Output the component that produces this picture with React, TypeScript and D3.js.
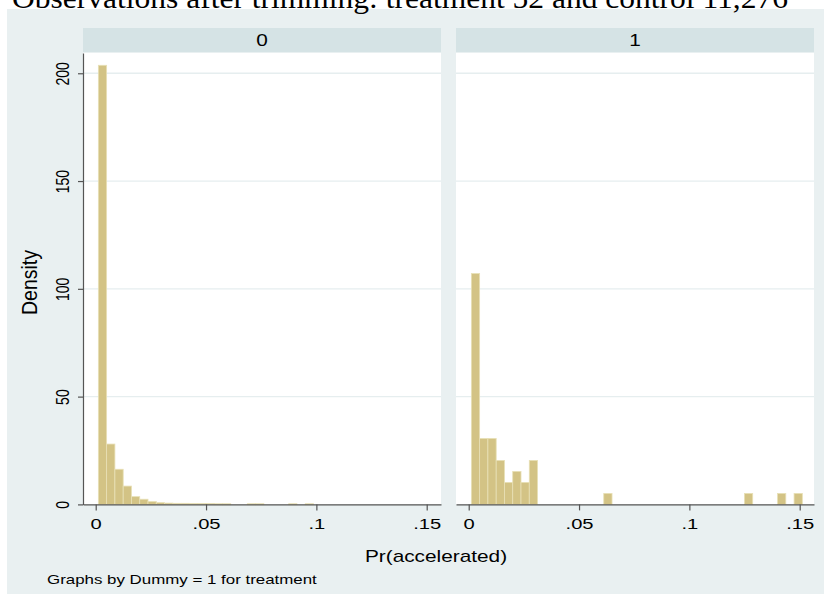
import * as d3 from "d3";
import React, { useEffect, useRef } from "react";

const title = "Observations after trimming: treatment 52 and control 11,276";
const panels = ["0", "1"];
const binStart = 0.0012;
const binWidth = 0.00375;

// density per bin, panel "0" (control)
const controlDensity = [
  203.7, 28, 16.3, 8.5, 3.6, 2.4, 1.3, 0.8, 0.6, 0.5, 0.5, 0.4, 0.4, 0.4, 0.3,
  0.3, 0, 0, 0.3, 0.3, 0, 0, 0, 0.3, 0, 0.3,
];
// density per bin, panel "1" (treatment)
const treatmentDensity = [
  107.1, 30.6, 30.6, 20.4, 10.2, 15.3, 10.2, 20.4, 0, 0, 0, 0, 0, 0, 0, 0, 5.1,
  0, 0, 0, 0, 0, 0, 0, 0, 0, 0, 0, 0, 0, 0, 0, 0, 5.1, 0, 0, 0, 5.1, 0, 5.1,
];

const yTicks = [0, 50, 100, 150, 200];
const yTickLabels = ["0", "50", "100", "150", "200"];
const xTicks = [0, 0.05, 0.1, 0.15];
const xTickLabels = ["0", ".05", ".1", ".15"];

const W = 824;
const H = 594;
const SX = 1.3; // horizontal stretch of the original picture's text

const App = () => {
  const svgRef = useRef<SVGSVGElement>(null);

  useEffect(() => {
    const svg = d3.select(svgRef.current);
    svg.selectAll("*").remove();

    const font = "'Liberation Sans', Arial, Helvetica, sans-serif";
    const plotTop = 53;
    const plotBottom = 504.4;
    const panelW = 358;
    const panelX = [83, 456];

    // background
    svg.append("rect").attr("width", W).attr("height", H).attr("fill", "#ffffff");
    svg
      .append("rect")
      .attr("x", 7)
      .attr("y", 9)
      .attr("width", W - 7)
      .attr("height", H - 9)
      .attr("fill", "#e9f0f1");

    // title (cropped at the top in the original)
    svg
      .append("text")
      .attr("x", 12)
      .attr("y", 8)
      .attr("font-family", "'Liberation Serif', 'Times New Roman', serif")
      .attr("font-size", 30)
      .attr("textLength", 776)
      .attr("lengthAdjust", "spacingAndGlyphs")
      .attr("fill", "#000")
      .text(title);

    const y = d3.scaleLinear().domain([0, 209.4]).range([plotBottom, plotTop]);
    const x = d3
      .scaleLinear()
      .domain([-0.00576, 0.15648])
      .range([0, panelW]);

    const datasets = [controlDensity, treatmentDensity];

    panels.forEach((label, pi) => {
      const g = svg.append("g").attr("transform", `translate(${panelX[pi]},0)`);

      // strip
      g.append("rect")
        .attr("x", 0)
        .attr("y", 28)
        .attr("width", panelW)
        .attr("height", 24)
        .attr("fill", "#d5e3e5");
      g.append("text")
        .attr("transform", `translate(${panelW / 2},46) scale(${SX},1)`)
        .attr("text-anchor", "middle")
        .attr("font-family", font)
        .attr("font-size", 16)
        .text(label);

      // plot region
      g.append("rect")
        .attr("x", 0)
        .attr("y", plotTop)
        .attr("width", panelW)
        .attr("height", plotBottom - plotTop)
        .attr("fill", "#ffffff");

      // grid
      g.selectAll(".grid")
        .data(yTicks.slice(1))
        .enter()
        .append("line")
        .attr("x1", 0)
        .attr("x2", panelW)
        .attr("y1", (d) => y(d))
        .attr("y2", (d) => y(d))
        .attr("stroke", "#e6eeef")
        .attr("stroke-width", 1.3);

      // bars
      const bins = datasets[pi]
        .map((v, i) => ({ x0: binStart + i * binWidth, v }))
        .filter((d) => d.v > 0);
      g.selectAll(".bar")
        .data(bins)
        .enter()
        .append("rect")
        .attr("x", (d) => x(d.x0))
        .attr("y", (d) => y(d.v))
        .attr("width", (d) => x(d.x0 + binWidth) - x(d.x0))
        .attr("height", (d) => Math.max(1, y(0) - y(d.v)))
        .attr("fill", "#d3c385")
        .attr("stroke", "#e8e0b6")
        .attr("stroke-width", 0.8);

      // x axis
      const xAxis = g
        .append("g")
        .attr("transform", `translate(0,${plotBottom})`)
        .call(
          d3
            .axisBottom(x)
            .tickValues(xTicks)
            .tickFormat((_d, i) => xTickLabels[i])
            .tickSize(6)
            .tickSizeOuter(0)
        );
      xAxis.select(".domain").attr("stroke", "#555").attr("stroke-width", 1.2);
      xAxis.selectAll(".tick line").attr("stroke", "#555").attr("stroke-width", 1.2);
      xAxis
        .selectAll(".tick text")
        .attr("y", null)
        .attr("dy", null)
        .attr("transform", `translate(0,25) scale(${SX},1)`)
        .attr("font-family", font)
        .attr("font-size", 15.5)
        .attr("fill", "#000");

      // y axis only on the first panel
      if (pi === 0) {
        const yAxis = g
          .append("g")
          .call(
            d3
              .axisLeft(y)
              .tickValues(yTicks)
              .tickFormat((_d, i) => yTickLabels[i])
              .tickSize(5)
              .tickSizeOuter(0)
          );
        yAxis.select(".domain").attr("stroke", "#555").attr("stroke-width", 1.2);
        yAxis.selectAll(".tick line").attr("stroke", "#555").attr("stroke-width", 1.2);
        yAxis
          .selectAll(".tick text")
          .attr("x", null)
          .attr("dy", null)
          .attr("text-anchor", "middle")
          .attr("transform", `translate(-14.5,0) scale(${SX},1) rotate(-90)`)
          .attr("font-family", font)
          .attr("font-size", 14)
          .attr("fill", "#000");
      }
    });

    // axis titles
    svg
      .append("text")
      .attr("transform", "translate(37,282.5) scale(1.1,1) rotate(-90)")
      .attr("text-anchor", "middle")
      .attr("font-family", font)
      .attr("font-size", 19.5)
      .text("Density");

    svg
      .append("text")
      .attr("transform", `translate(436,562) scale(${SX},1)`)
      .attr("text-anchor", "middle")
      .attr("font-family", font)
      .attr("font-size", 16)
      .text("Pr(accelerated)");

    svg
      .append("text")
      .attr("transform", `translate(47,584) scale(${SX},1)`)
      .attr("font-family", font)
      .attr("font-size", 13)
      .text("Graphs by Dummy = 1 for treatment");
  }, []);

  return (
    <svg
      ref={svgRef}
      width={W}
      height={H}
      viewBox={`0 0 ${W} ${H}`}
      style={{ display: "block", position: "absolute", left: 0, top: 0 }}
    />
  );
};

export default App;
